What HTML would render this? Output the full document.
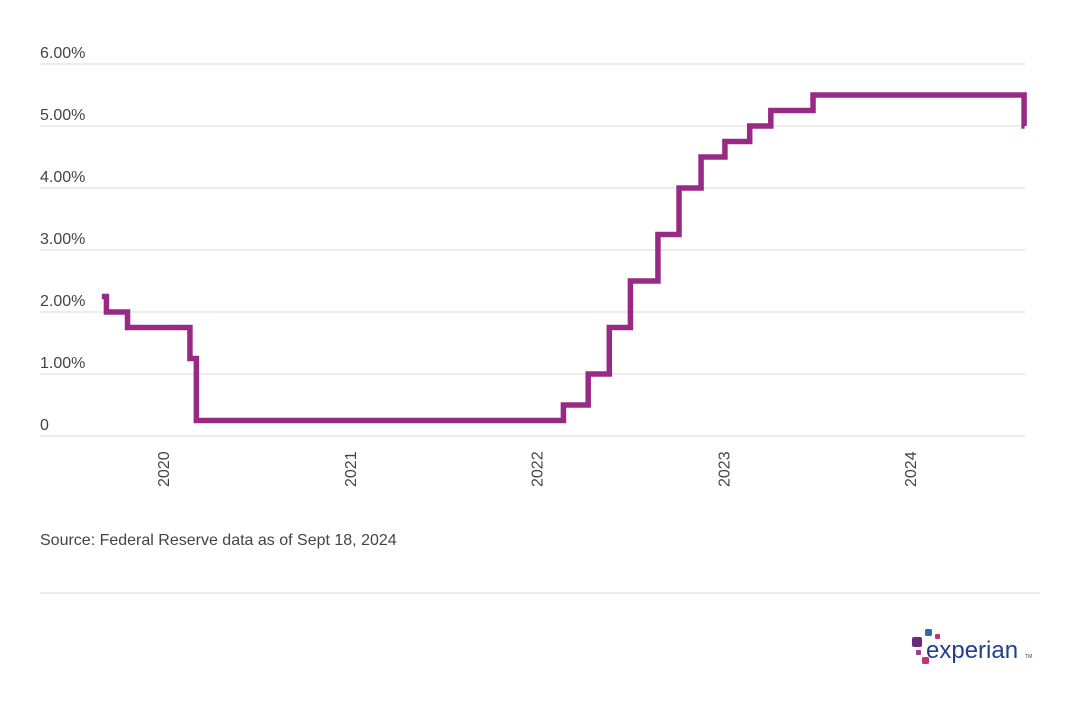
<!DOCTYPE html>
<html><head><meta charset="utf-8"><style>
body{margin:0;background:#fff;font-family:"Liberation Sans",sans-serif;}
svg text{font-family:"Liberation Sans",sans-serif;}
</style></head><body>
<svg width="1080" height="704" viewBox="0 0 1080 704">
<g id="grid"></g>
<g id="yticks"></g>
<g id="xticks"></g>
<path id="line" fill="none" stroke="#982a86" stroke-width="5.5" stroke-linejoin="miter"></path>
<text x="40" y="545" font-size="16" fill="#444">Source: Federal Reserve data as of Sept 18, 2024</text>
<line x1="40" y1="593" x2="1040" y2="593" stroke="#d9d9d9" stroke-width="1"/>
<g>
<rect x="925" y="629" width="7" height="7" rx="1.5" fill="#2b6db5"/>
<rect x="935" y="634" width="5" height="5" rx="1" fill="#b9357f"/>
<rect x="912" y="637" width="10" height="10" rx="2" fill="#6a2a7e"/>
<rect x="916" y="650" width="5" height="5" rx="1" fill="#a03a8c"/>
<rect x="922" y="657" width="7" height="7" rx="1.5" fill="#c3317c"/>
<text x="926" y="658" font-size="24" fill="#1f3f8f">experian</text>
<text x="1025" y="658" font-size="5" fill="#1f3f8f">TM</text>
</g>
</svg>
<script>
const yTickValues=[0,1,2,3,4,5,6];
const yTickLabels=["0","1.00%","2.00%","3.00%","4.00%","5.00%","6.00%"];
const xTickYears=[2020,2021,2022,2023,2024];
const stepDates=[2019.69,2019.715,2019.83,2020.17,2020.205,2022.205,2022.34,2022.455,2022.57,2022.72,2022.835,2022.955,2023.085,2023.22,2023.335,2023.565,2024.715];
const stepRates=[2.25,2.00,1.75,1.25,0.25,0.50,1.00,1.75,2.50,3.25,4.00,4.50,4.75,5.00,5.25,5.50,5.00];
const x0=2019.68,x1=2024.72,px0=100,px1=1025;
const X=t=>px0+(t-x0)/(x1-x0)*(px1-px0);
const LX=yr=>163+(yr-2020)*186.75;
const Y=v=>436-v*62;
const ns="http://www.w3.org/2000/svg";
const grid=document.getElementById('grid'),yt=document.getElementById('yticks'),xt=document.getElementById('xticks');
yTickValues.forEach((v,i)=>{
 const l=document.createElementNS(ns,'line');
 l.setAttribute('x1',40);l.setAttribute('x2',1025);l.setAttribute('y1',Y(v));l.setAttribute('y2',Y(v));
 l.setAttribute('stroke','#d9d9d9');l.setAttribute('stroke-width','1');
 
 
 grid.appendChild(l);
 const t=document.createElementNS(ns,'text');
 t.setAttribute('x',40);t.setAttribute('y',Y(v)-6);t.setAttribute('font-size','16');t.setAttribute('fill','#444');
 t.textContent=yTickLabels[i];
 
 
 yt.appendChild(t);
});
xTickYears.forEach(yr=>{
 const cx=LX(yr);
 const t=document.createElementNS(ns,'text');
 t.setAttribute('transform','translate('+(cx+6)+',487) rotate(-90)');
 t.setAttribute('font-size','16');t.setAttribute('fill','#444');
 t.textContent=yr;
 
 
 xt.appendChild(t);
});
let d='M'+X(stepDates[0])+','+Y(stepRates[0]);
for(let i=1;i<stepDates.length;i++){
 d+=' L'+X(stepDates[i])+','+Y(stepRates[i-1])+' L'+X(stepDates[i])+','+Y(stepRates[i]);
}
d+=' L'+(X(stepDates[stepDates.length-1])+0.5)+','+Y(stepRates[stepRates.length-1]);
document.getElementById('line').setAttribute('d',d);
</script>
</body></html>
